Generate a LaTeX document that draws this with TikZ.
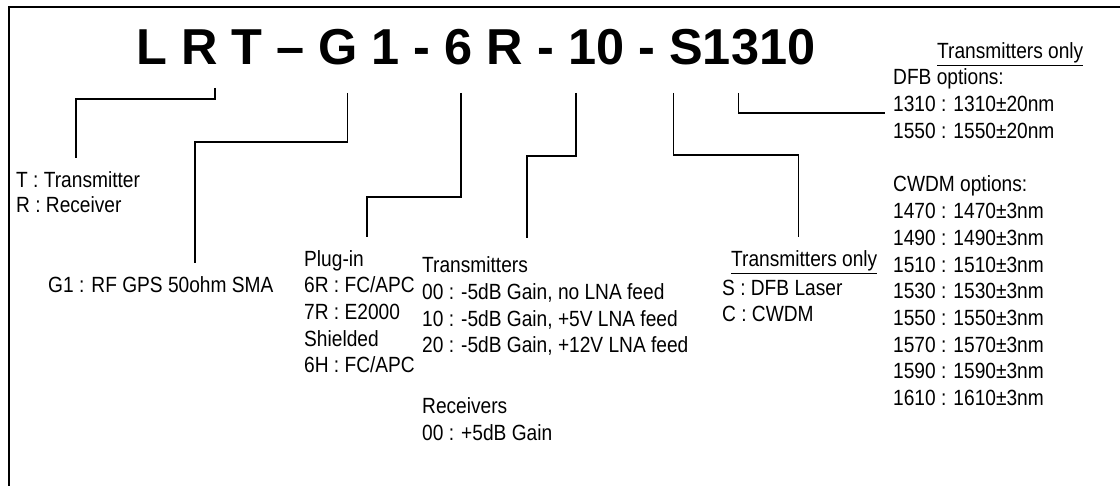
\documentclass[tikz,border=0pt]{standalone}
\usepackage{fontspec}
\setmainfont{Liberation Sans}[FakeStretch=0.87]
\newfontfamily\codefont{Liberation Sans}
\usetikzlibrary{positioning}

\begin{document}
\begin{tikzpicture}[x=1pt, y=-1pt, font=\fontsize{22}{26.7}\selectfont,
  txt/.style={anchor=base west, inner sep=0pt, align=left},
  lead/.style={line width=1.4pt}]
  \useasboundingbox (0,0) rectangle (1120,486);
  \draw[line width=2pt] (9,495) -- (9,7) -- (1125,7);

  \node[txt, font=\codefont\bfseries\fontsize{50.5}{50.5}\selectfont] (code) at (136,65)
    {L R T – G 1 - 6 R - 10 - S1310};

  % what each part of the code means (multi-line nodes sit on their last line)
  \node[txt] (tr)     at (16,213)    {T : Transmitter\\[-1.7pt]R : Receiver};
  \node[txt] (rf)     at (48,293)    {G1 : RF GPS 50ohm SMA};
  \node[txt] (plug)   at (304,373)   {Plug-in\\6R : FC/APC\\7R : E2000\\Shielded\\6H : FC/APC};
  \node[txt] (gain)   at (422,353)   {Transmitters\\00 : -5dB Gain, no LNA feed\\10 : -5dB Gain, +5V LNA feed\\20 : -5dB Gain, +12V LNA feed};
  \node[txt] (rxgain) at (422,440)   {Receivers\\00 : +5dB Gain};
  \node[txt] (laser)  at (731,267)   {\underline{Transmitters only}};
  \node[txt] (lasopt) at (722,322)   {S : DFB Laser\\C : CWDM};
  \node[txt] (wlonly) at (937,59)    {\underline{Transmitters only}};
  \node[txt] (dfb)    at (893,138.4) {DFB options:\\1310 : 1310±20nm\\1550 : 1550±20nm};
  \node[txt] (cwdm)   at (893,192)   {CWDM options:};
  \foreach \w [count=\i] in {1470,1490,1510,1530,1550,1570,1590,1610}
    \node[txt] (cw\i) at (893,192+26.7*\i) {\w{} : \w±3nm};

  % leaders from the code letters
  \coordinate (kT) at (215,88);   \coordinate (eT) at (76,158);
  \coordinate (kG) at (347.5,93); \coordinate (eG) at (195,263);
  \coordinate (kP) at (461,93);   \coordinate (eP) at (367,237);
  \coordinate (kN) at (576,93);   \coordinate (eN) at (527,238);
  \coordinate (kS) at (673.6,93); \coordinate (eS) at (798.6,237);
  \coordinate (kW) at (738.6,93); \coordinate (eW) at (885,113);

  \draw[lead] (kT) -- ++(0,11) -| (eT);
  \draw[lead] (kG) -- ++(0,49) -| (eG);
  \draw[lead] (kP) -- ++(0,104) -| (eP);
  \draw[lead] (kN) -- ++(0,63) -| (eN);
  \draw[lead] (kS) -- ++(0,62) -| (eS);
  \draw[lead] (kW) |- (eW);
\end{tikzpicture}
\end{document}
